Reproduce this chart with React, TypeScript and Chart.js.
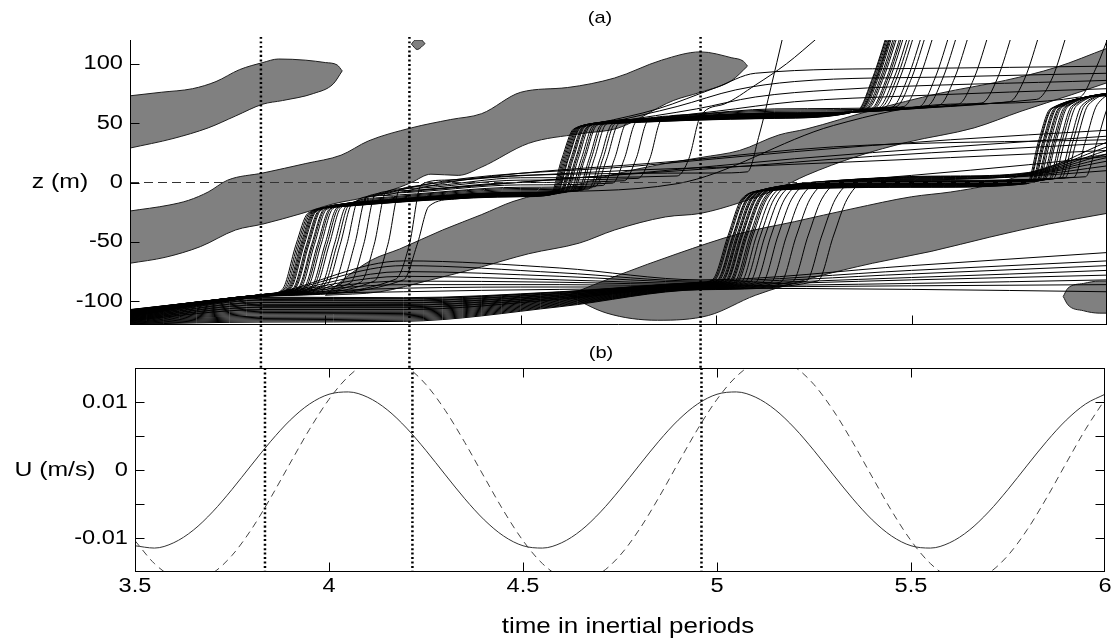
import React, { useEffect, useRef } from 'react';
import { Chart, registerables } from 'chart.js';

Chart.register(...registerables);

type P = [number, number];

// ---------------- axes / ticks ----------------
const timeRange: P = [3.5, 6];
const zRange: P = [-120, 120];
const uRange: P = [-0.015, 0.015];
const zTicks = [-100, -50, 0, 50, 100];
const zTickLabels = ['-100', '-50', '0', '50', '100'];
const timeTicks = [3.5, 4, 4.5, 5, 5.5, 6];
const timeTickLabels = ['3.5', '4', '4.5', '5', '5.5', '6'];
const uTicks = [-0.01, -0.005, 0, 0.005, 0.01];
const uTickLabels = ['-0.01', '', '0', '', '0.01'];
const markerTimes = [3.835, 4.215, 4.96];

// ---------------- panel (b): velocity ----------------
const uTime = [3.5, 3.55, 3.6, 3.65, 3.7, 3.75, 3.8, 3.85, 3.9, 3.95, 4.0, 4.05, 4.1, 4.15, 4.2, 4.25, 4.3, 4.35, 4.4, 4.45, 4.5, 4.55, 4.6, 4.65, 4.7, 4.75, 4.8, 4.85, 4.9, 4.95, 5.0, 5.05, 5.1, 5.15, 5.2, 5.25, 5.3, 5.35, 5.4, 5.45, 5.5, 5.55, 5.6, 5.65, 5.7, 5.75, 5.8, 5.85, 5.9, 5.95, 6.0];
const uSolid = [-0.01114, -0.01148, -0.01069, -0.00886, -0.00616, -0.00286, 0.00072, 0.00423, 0.00733, 0.00971, 0.01114, 0.01148, 0.01069, 0.00886, 0.00616, 0.00286, -0.00072, -0.00423, -0.00733, -0.00971, -0.01114, -0.01148, -0.01069, -0.00886, -0.00616, -0.00286, 0.00072, 0.00423, 0.00733, 0.00971, 0.01114, 0.01148, 0.01069, 0.00886, 0.00616, 0.00286, -0.00072, -0.00423, -0.00733, -0.00971, -0.01114, -0.01148, -0.01069, -0.00886, -0.00616, -0.00286, 0.00072, 0.00423, 0.00733, 0.00971, 0.01114];
const uDashed = [-0.01039, -0.01376, -0.01579, -0.01627, -0.01516, -0.01256, -0.00873, -0.00405, 0.00102, 0.006, 0.01039, 0.01376, 0.01579, 0.01627, 0.01516, 0.01256, 0.00873, 0.00405, -0.00102, -0.006, -0.01039, -0.01376, -0.01579, -0.01627, -0.01516, -0.01256, -0.00873, -0.00405, 0.00102, 0.006, 0.01039, 0.01376, 0.01579, 0.01627, 0.01516, 0.01256, 0.00873, 0.00405, -0.00102, -0.006, -0.01039, -0.01376, -0.01579, -0.01627, -0.01516, -0.01256, -0.00873, -0.00405, 0.00102, 0.006, 0.01039];

// ---------------- panel (a): grey regions (upper edge, lower edge) ----------------
const bandA_top: P[] = [[3.5, 73], [3.58, 76], [3.66, 79], [3.72, 85], [3.78, 95], [3.84, 101], [3.88, 104], [3.95, 103], [4.0, 101], [4.03, 99], [4.043, 94]];
const bandA_bot: P[] = [[3.5, 29], [3.61, 37], [3.7, 46], [3.77, 56], [3.84, 66], [3.89, 69], [3.97, 75], [4.02, 83], [4.043, 94]];
const bandB_top: P[] = [[3.5, -24], [3.6, -19], [3.65, -15], [3.7, -8], [3.75, 2], [3.84, 8], [3.95, 16], [4.04, 23], [4.11, 35], [4.22, 46], [4.32, 53], [4.4, 58], [4.5, 76], [4.62, 80], [4.74, 88], [4.86, 103], [4.96, 110], [5.04, 105], [5.07, 102], [5.08, 98]];
const bandB_bot: P[] = [[3.5, -68], [3.59, -63], [3.68, -54], [3.77, -40], [3.84, -35], [3.94, -26], [4.02, -18], [4.11, -12], [4.19, -4], [4.22, 0], [4.27, 7], [4.34, 6], [4.4, 13], [4.52, 33], [4.65, 41], [4.75, 46], [4.89, 69], [4.96, 76], [5.04, 86], [5.08, 98]];
const bandC_top: P[] = [[4.0, -95], [4.06, -78], [4.12, -65], [4.19, -56], [4.3, -40], [4.4, -27], [4.48, -16], [4.62, -4], [4.74, 7], [4.87, 16], [4.96, 21], [5.06, 27], [5.16, 40], [5.23, 45], [5.4, 61], [5.57, 75], [5.74, 86], [5.87, 97], [6.0, 113]];
const bandC_bot: P[] = [[4.0, -95], [4.14, -92], [4.27, -82], [4.4, -71], [4.52, -60], [4.65, -51], [4.74, -40], [4.87, -29], [4.96, -26], [5.06, -17], [5.16, -5], [5.23, 6], [5.36, 22], [5.49, 34], [5.66, 46], [5.78, 60], [5.91, 74], [6.0, 84]];
const bandD_top: P[] = [[4.62, -95], [4.75, -78], [4.9, -60], [5.06, -43], [5.2, -33], [5.35, -22], [5.5, -12], [5.6, -8], [5.7, -2], [5.8, 8], [5.9, 18], [6.0, 24]];
const bandD_bot: P[] = [[4.62, -95], [4.72, -110], [4.85, -116], [4.98, -112], [5.1, -95], [5.25, -80], [5.4, -68], [5.55, -58], [5.7, -46], [5.85, -35], [6.0, -26]];
const blobE_top: P[] = [[5.888, -96], [5.9, -89], [5.94, -85], [5.98, -83], [6.0, -83]];
const blobE_bot: P[] = [[5.888, -96], [5.9, -103], [5.94, -108], [5.98, -110], [6.0, -110]];
const blobF_top: P[] = [[4.22, 116.5], [4.23, 120], [4.245, 120], [4.255, 117]];
const blobF_bot: P[] = [[4.22, 116.5], [4.235, 112], [4.255, 117]];

// ---------------- particle tracks, group rising near t=3.9-4.2 ----------------
const g1_00: P[] = [[3.5, -107], [3.86, -93.5], [3.89, -90], [3.925, -52], [3.955, -26], [4.015, -21], [4.5, -12], [4.575, -10.5], [4.605, 20], [4.635, 45], [4.695, 49], [5.15, 54], [5.36, 60], [5.4, 88], [5.44, 128]];
const g1_01: P[] = [[3.5, -107.3], [3.86, -93.6], [3.898, -89.8], [3.933, -52], [3.963, -25.5], [4.023, -20.5], [4.5, -11.5], [4.581, -10], [4.611, 20], [4.641, 45.5], [4.701, 49.5], [5.15, 54.5], [5.365, 60.5], [5.405, 88], [5.445, 128]];
const g1_02: P[] = [[3.5, -107.6], [3.86, -93.7], [3.905, -89.6], [3.94, -52], [3.97, -25], [4.03, -20], [4.5, -11], [4.587, -9.5], [4.617, 20], [4.647, 46], [4.707, 50], [5.15, 55], [5.37, 61], [5.41, 88], [5.45, 128]];
const g1_03: P[] = [[3.5, -107.9], [3.86, -93.8], [3.911, -89.4], [3.946, -52], [3.976, -24.5], [4.036, -19.5], [4.5, -11], [4.592, -9.5], [4.622, 20], [4.652, 46], [4.712, 50], [5.15, 55], [5.375, 61], [5.415, 88], [5.455, 128]];
const g1_04: P[] = [[3.5, -108.2], [3.86, -93.9], [3.917, -89.2], [3.952, -52], [3.982, -24], [4.042, -19], [4.5, -10.5], [4.598, -9], [4.628, 20], [4.658, 46.5], [4.718, 50.5], [5.15, 55.5], [5.38, 61.5], [5.42, 88], [5.46, 128]];
const g1_05: P[] = [[3.5, -108.5], [3.86, -94], [3.923, -89], [3.958, -52], [3.988, -23.5], [4.048, -18.5], [4.5, -10], [4.604, -8.5], [4.634, 20], [4.664, 47], [4.724, 51], [5.15, 56], [5.388, 62], [5.428, 88], [5.468, 128]];
const g1_06: P[] = [[3.5, -108.8], [3.86, -94.1], [3.93, -88.8], [3.965, -52], [3.995, -23], [4.055, -18], [4.5, -10], [4.61, -8.5], [4.64, 20], [4.67, 47], [4.73, 51], [5.15, 56], [5.396, 62], [5.436, 88], [5.476, 128]];
const g1_07: P[] = [[3.5, -109.1], [3.86, -94.2], [3.937, -88.6], [3.972, -52], [4.002, -23], [4.062, -18], [4.5, -9.5], [4.617, -8], [4.647, 20], [4.677, 47.5], [4.737, 51.5], [5.15, 56.5], [5.405, 62.5], [5.445, 88], [5.485, 128]];
const g1_08: P[] = [[3.5, -109.4], [3.86, -94.3], [3.945, -88.4], [3.98, -52], [4.01, -22.5], [4.07, -17.5], [4.5, -9], [4.625, -7.5], [4.655, 20], [4.685, 48], [4.745, 52], [5.15, 57], [5.415, 63], [5.455, 88], [5.495, 128]];
const g1_09: P[] = [[3.5, -109.7], [3.86, -94.4], [3.954, -88.1], [3.989, -52], [4.019, -22], [4.079, -17], [4.5, -9], [4.634, -7.5], [4.664, 20], [4.694, 48], [4.754, 52], [5.15, 57], [5.43, 63], [5.47, 88], [5.51, 128]];
const g1_10: P[] = [[3.5, -110], [3.86, -94.5], [3.964, -87.8], [3.999, -52], [4.029, -21.5], [4.089, -16.5], [4.5, -8.5], [4.645, -7], [4.675, 20], [4.705, 48.5], [4.765, 52.5], [5.15, 57.5], [5.45, 63.5], [5.49, 88], [5.53, 128]];
const g1_11: P[] = [[3.5, -110.3], [3.86, -94.6], [3.975, -87.5], [4.01, -52], [4.04, -21], [4.1, -16], [4.5, -8], [4.658, -6.5], [4.688, 20], [4.718, 49], [4.778, 53], [5.15, 58], [5.48, 64], [5.52, 88], [5.56, 128]];
const g1_12: P[] = [[3.5, -110.6], [3.86, -94.7], [3.988, -87.1], [4.023, -52], [4.053, -20], [4.113, -15], [4.5, -7], [4.673, -5.5], [4.703, 20], [4.733, 49], [4.793, 53], [5.15, 58], [5.52, 64], [5.56, 88], [5.6, 128]];
const g1_13: P[] = [[3.5, -110.9], [3.86, -94.8], [4.003, -86.6], [4.038, -52], [4.068, -18], [4.128, -13], [4.5, -5], [4.69, -3.5], [4.72, 20], [4.75, 49.5], [4.81, 53.5], [5.15, 58.5], [5.57, 65], [5.61, 88], [5.65, 128]];
const g1_14: P[] = [[3.5, -111.2], [3.86, -94.9], [4.02, -86.1], [4.055, -52], [4.085, -14], [4.145, -11], [4.5, -4], [4.71, -2.5], [4.74, 20], [4.77, 50], [4.83, 54], [5.15, 59], [5.62, 66], [5.66, 88], [5.7, 128]];
const g1_15: P[] = [[3.5, -111.5], [3.86, -95], [4.04, -85.5], [4.075, -52], [4.105, -12], [4.165, -9], [4.5, -2], [4.735, -0.5], [4.765, 20], [4.795, 51], [4.855, 55], [5.15, 60], [5.68, 67], [5.72, 88], [5.76, 128]];
const g1_16: P[] = [[3.5, -111.8], [3.86, -95.1], [4.063, -84.8], [4.098, -52], [4.128, -10], [4.188, -7], [4.5, 0], [4.765, 1.5], [4.795, 20], [4.825, 52], [4.885, 56], [5.15, 61], [5.75, 68], [5.79, 88], [5.83, 128]];
const g1_17: P[] = [[3.5, -112.1], [3.86, -95.2], [4.09, -84], [4.125, -52], [4.155, -8], [4.215, -5], [4.5, 2], [4.8, 3.5], [4.83, 20], [4.86, 53], [4.92, 57], [5.15, 62], [5.82, 70], [5.86, 88], [5.9, 128]];
const g1_18: P[] = [[3.5, -112.4], [3.86, -95.3], [4.125, -83], [4.16, -52], [4.19, -6], [4.25, -3], [4.5, 4], [4.9, 5.5], [4.93, 20], [4.96, 56], [5.02, 66], [5.1, 82], [5.18, 100], [5.26, 122]];
const g1_19: P[] = [[3.5, -112.7], [3.86, -95.4], [4.18, -81.4], [4.215, -52], [4.245, -2], [4.305, 2], [4.5, 6], [5.0, 8], [5.08, 9], [5.11, 40], [5.14, 80], [5.17, 122]];
const g1_20: P[] = [[3.5, -107.15], [3.86, -93.55], [3.894, -89.9], [3.929, -52], [3.959, -25.8], [4.019, -20.8], [4.5, -11.8], [4.578, -10.3], [4.608, 20], [4.638, 45.2], [4.698, 49.2], [5.15, 54.2], [5.362, 60.2], [5.402, 88], [5.442, 128]];
const g1_21: P[] = [[3.5, -107.45], [3.86, -93.65], [3.902, -89.6], [3.937, -52], [3.967, -25.2], [4.027, -20.2], [4.5, -11.2], [4.584, -9.7], [4.614, 20], [4.644, 45.8], [4.704, 49.8], [5.15, 54.8], [5.368, 60.8], [5.408, 88], [5.448, 128]];
const g1_22: P[] = [[3.5, -107.75], [3.86, -93.75], [3.908, -89.5], [3.943, -52], [3.973, -24.8], [4.033, -19.8], [4.5, -10.8], [4.59, -9.3], [4.62, 20], [4.65, 46.2], [4.71, 50.2], [5.15, 55.2], [5.372, 61.2], [5.412, 88], [5.452, 128]];
const g1_23: P[] = [[3.5, -108.35], [3.86, -93.95], [3.92, -89.1], [3.955, -52], [3.985, -23.8], [4.045, -18.8], [4.5, -10.2], [4.601, -8.7], [4.631, 20], [4.661, 46.8], [4.721, 50.8], [5.15, 55.8], [5.384, 61.8], [5.424, 88], [5.464, 128]];
const g1_24: P[] = [[3.5, -108.95], [3.86, -94.15], [3.933, -88.7], [3.968, -52], [3.998, -23], [4.058, -18], [4.5, -9.7], [4.613, -8.2], [4.643, 20], [4.673, 47.2], [4.733, 51.2], [5.15, 56.2], [5.4, 62.2], [5.44, 88], [5.48, 128]];
const g1_25: P[] = [[3.5, -109.55], [3.86, -94.35], [3.949, -88.3], [3.984, -52], [4.014, -22.2], [4.074, -17.2], [4.5, -8.8], [4.63, -7.3], [4.66, 20], [4.69, 48.2], [4.75, 52.2], [5.15, 57.2], [5.422, 63.2], [5.462, 88], [5.502, 128]];
const g1_26: P[] = [[3.5, -110.15], [3.86, -94.55], [3.969, -87.6], [4.004, -52], [4.034, -21.2], [4.094, -16.2], [4.5, -8.2], [4.65, -6.7], [4.68, 20], [4.71, 48.8], [4.77, 52.8], [5.15, 57.8], [5.46, 63.8], [5.5, 88], [5.54, 128]];
const g1_27: P[] = [[3.5, -110.75], [3.86, -94.75], [3.995, -86.9], [4.03, -52], [4.06, -19], [4.12, -14], [4.5, -6], [4.68, -4.5], [4.71, 20], [4.74, 49.2], [4.8, 53.2], [5.15, 58.2], [5.54, 64.5], [5.58, 88], [5.62, 128]];
const g1_28: P[] = [[3.5, -112.9], [3.86, -95.5], [4.2, -82], [4.235, -52], [4.265, -20], [4.33, -14], [4.5, -9], [4.9, -1], [5.3, 48], [5.6, 66], [5.93, 72], [5.97, 95], [6.01, 128]];

// ---------------- particle tracks, lower bundle rising near t=5.0-5.3 ----------------
const g2_00: P[] = [[3.5, -113], [3.84, -96.5], [4.2, -97], [4.6, -92], [4.96, -84], [4.99, -82], [5.03, -45], [5.065, -14], [5.12, -7], [5.55, -4], [5.795, -1], [5.825, 35], [5.855, 62], [6.05, 74]];
const g2_01: P[] = [[3.5, -113.3], [3.84, -97.5], [4.2, -97.95], [4.6, -92.6], [4.96, -84.3], [4.996, -82.2], [5.036, -45], [5.071, -14], [5.126, -6.55], [5.55, -3.55], [5.8, -0.55], [5.83, 35], [5.86, 62.3], [6.05, 74.3]];
const g2_02: P[] = [[3.5, -113.6], [3.84, -98.5], [4.2, -98.9], [4.6, -93.2], [4.96, -84.6], [5.002, -82.4], [5.042, -45], [5.077, -14], [5.132, -6.1], [5.55, -3.1], [5.806, -0.1], [5.836, 35], [5.866, 62.6], [6.05, 74.6]];
const g2_03: P[] = [[3.5, -113.9], [3.84, -99.5], [4.2, -99.85], [4.6, -93.8], [4.96, -84.9], [5.007, -82.6], [5.047, -45], [5.082, -14], [5.137, -5.65], [5.55, -2.65], [5.812, 0.35], [5.842, 35], [5.872, 62.9], [6.05, 74.9]];
const g2_04: P[] = [[3.5, -114.2], [3.84, -100.5], [4.2, -100.8], [4.6, -94.4], [4.96, -85.2], [5.012, -82.8], [5.052, -45], [5.087, -14], [5.142, -5.2], [5.55, -2.2], [5.818, 0.8], [5.848, 35], [5.878, 63.2], [6.05, 75.2]];
const g2_05: P[] = [[3.5, -114.5], [3.84, -101.5], [4.2, -101.75], [4.6, -95], [4.96, -85.5], [5.017, -83], [5.057, -45], [5.092, -14], [5.147, -4.75], [5.55, -1.75], [5.825, 1.25], [5.855, 35], [5.885, 63.5], [6.05, 75.5]];
const g2_06: P[] = [[3.5, -114.8], [3.84, -102.5], [4.2, -102.7], [4.6, -95.6], [4.96, -85.8], [5.022, -83.2], [5.062, -45], [5.097, -14], [5.152, -4.3], [5.55, -1.3], [5.832, 1.7], [5.862, 35], [5.892, 63.8], [6.05, 75.8]];
const g2_07: P[] = [[3.5, -115.1], [3.84, -103.5], [4.2, -103.65], [4.6, -96.2], [4.96, -86.1], [5.027, -83.4], [5.067, -45], [5.102, -14], [5.157, -3.85], [5.55, -0.85], [5.84, 2.15], [5.87, 35], [5.9, 64.1], [6.05, 76.1]];
const g2_08: P[] = [[3.5, -115.4], [3.84, -104.5], [4.2, -104.6], [4.6, -96.8], [4.96, -86.4], [5.033, -83.5], [5.073, -45], [5.108, -14], [5.163, -3.4], [5.55, -0.4], [5.85, 2.6], [5.88, 35], [5.91, 64.4], [6.05, 76.4]];
const g2_09: P[] = [[3.5, -115.7], [3.84, -105.5], [4.2, -105.55], [4.6, -97.4], [4.96, -86.7], [5.039, -83.7], [5.079, -45], [5.114, -14], [5.169, -2.95], [5.55, 0.05], [5.862, 3.05], [5.892, 35], [5.922, 64.7], [6.05, 76.7]];
const g2_10: P[] = [[3.5, -116], [3.84, -106.5], [4.2, -106.5], [4.6, -98], [4.96, -87], [5.046, -83.9], [5.086, -45], [5.121, -14], [5.176, -2.5], [5.55, 0.5], [5.876, 3.5], [5.906, 35], [5.936, 65], [6.05, 77]];
const g2_11: P[] = [[3.5, -116.3], [3.84, -107.5], [4.2, -107.45], [4.6, -98.6], [4.96, -87.3], [5.054, -84], [5.094, -45], [5.129, -14], [5.184, -2.05], [5.55, 0.95], [5.892, 3.95], [5.922, 35], [5.952, 65.3], [6.05, 77.3]];
const g2_12: P[] = [[3.5, -116.6], [3.84, -108.5], [4.2, -108.4], [4.6, -99.2], [4.96, -87.6], [5.063, -84.1], [5.103, -45], [5.138, -14], [5.193, -1.6], [5.55, 1.4], [5.915, 4.4], [5.945, 35], [5.975, 65.6], [6.05, 77.6]];
const g2_13: P[] = [[3.5, -116.9], [3.84, -109.5], [4.2, -109.35], [4.6, -99.8], [4.96, -87.9], [5.073, -84.2], [5.113, -45], [5.148, -14], [5.203, -1.15], [5.55, 1.85], [5.945, 4.85], [5.975, 35], [6.005, 65.9], [6.05, 77.9]];
const g2_14: P[] = [[3.5, -117.2], [3.84, -110.5], [4.2, -110.3], [4.6, -100.4], [4.96, -88.2], [5.085, -84.3], [5.125, -45], [5.16, -14], [5.215, -0.7], [5.55, 2.3], [5.8, 5.3], [6.0, 10]];
const g2_15: P[] = [[3.5, -117.5], [3.84, -111.5], [4.2, -111.25], [4.6, -101], [4.96, -88.5], [5.1, -84.3], [5.14, -45], [5.175, -14], [5.23, -0.25], [5.55, 2.75], [5.8, 5.75], [6.0, 14]];
const g2_16: P[] = [[3.5, -117.8], [3.84, -112.5], [4.2, -112.2], [4.6, -101.6], [4.96, -88.8], [5.118, -84.2], [5.158, -45], [5.193, -14], [5.248, 0.2], [5.55, 3.2], [5.8, 6.2], [6.0, 18]];
const g2_17: P[] = [[3.5, -118.1], [3.84, -113.5], [4.2, -113.15], [4.6, -102.2], [4.96, -89.1], [5.14, -84.1], [5.18, -45], [5.215, -14], [5.27, 0.65], [5.55, 3.65], [5.8, 6.65], [6.0, 21]];
const g2_18: P[] = [[3.5, -118.4], [3.84, -114.5], [4.2, -114.1], [4.6, -102.8], [4.96, -89.4], [5.165, -83.9], [5.205, -45], [5.24, -14], [5.295, 1.1], [5.55, 4.1], [5.8, 7.1], [6.0, 24]];
const g2_19: P[] = [[3.5, -118.7], [3.84, -115.5], [4.2, -115.05], [4.6, -103.4], [4.96, -89.7], [5.195, -83.6], [5.235, -45], [5.27, -14], [5.325, 1.55], [5.55, 4.55], [5.8, 7.55], [6.0, 27]];
const g2_20: P[] = [[3.5, -119], [3.84, -116.5], [4.2, -116], [4.6, -104], [4.96, -90], [5.23, -83.2], [5.27, -45], [5.305, -14], [5.36, 2], [5.6, 5], [5.8, 8], [6.0, 30]];
const g2_21: P[] = [[3.5, -119.3], [3.84, -117.5], [4.2, -116.95], [4.6, -104.6], [4.96, -90.3], [5.26, -82.9], [5.3, -45], [5.335, -14], [5.39, 2.45], [5.6, 5.45], [5.8, 8.45], [6.0, 34]];
const g2_22: P[] = [[3.5, -113.15], [3.84, -97], [4.2, -97.5], [4.6, -92.3], [4.96, -84.15], [4.993, -82.1], [5.033, -45], [5.068, -14], [5.123, -6.8], [5.55, -3.8], [5.798, -0.8], [5.828, 35], [5.858, 62.1], [6.05, 74.1]];
const g2_23: P[] = [[3.5, -113.75], [3.84, -99], [4.2, -99.4], [4.6, -93.5], [4.96, -84.75], [5.004, -82.5], [5.044, -45], [5.079, -14], [5.134, -5.9], [5.55, -2.9], [5.809, 0.1], [5.839, 35], [5.869, 62.7], [6.05, 74.7]];
const g2_24: P[] = [[3.5, -114.35], [3.84, -101], [4.2, -101.3], [4.6, -94.7], [4.96, -85.35], [5.015, -82.9], [5.055, -45], [5.09, -14], [5.145, -5], [5.55, -2], [5.821, 1], [5.851, 35], [5.881, 63.3], [6.05, 75.3]];
const g2_25: P[] = [[3.5, -114.95], [3.84, -103], [4.2, -103.2], [4.6, -95.9], [4.96, -85.95], [5.025, -83.3], [5.065, -45], [5.1, -14], [5.155, -4.1], [5.55, -1.1], [5.836, 1.9], [5.866, 35], [5.896, 63.9], [6.05, 75.9]];
const g2_26: P[] = [[3.5, -115.55], [3.84, -105], [4.2, -105.1], [4.6, -97.1], [4.96, -86.55], [5.036, -83.6], [5.076, -45], [5.111, -14], [5.166, -3.2], [5.55, -0.2], [5.855, 2.8], [5.885, 35], [5.915, 64.5], [6.05, 76.5]];
const g2_27: P[] = [[3.5, -116.15], [3.84, -107], [4.2, -107], [4.6, -98.3], [4.96, -87.15], [5.05, -84], [5.09, -45], [5.125, -14], [5.18, -2.3], [5.55, 0.7], [5.883, 3.7], [5.913, 35], [5.943, 65.1], [6.05, 77.1]];

// ---------------- tracks that stay deep (lens between t=3.86 and 4.96) ----------------
const lens_0: P[] = [[3.5, -109], [3.86, -94], [4.2, -66], [4.6, -72], [4.96, -82], [5.5, -70], [6.0, -59]];
const lens_1: P[] = [[3.5, -109.5], [3.86, -94.2], [4.2, -70], [4.6, -76], [4.96, -83], [5.5, -74], [6.0, -66]];
const lens_2: P[] = [[3.5, -110], [3.86, -94.4], [4.2, -75], [4.6, -79], [4.96, -84], [5.5, -77], [6.0, -70]];
const lens_3: P[] = [[3.5, -110.5], [3.86, -94.6], [4.2, -79], [4.6, -82], [4.96, -85], [5.5, -80], [6.0, -74]];
const lens_4: P[] = [[3.5, -111], [3.86, -94.8], [4.2, -83], [4.6, -84], [4.96, -86], [5.5, -82], [6.0, -78]];
const lens_5: P[] = [[3.5, -111.5], [3.86, -95], [4.2, -86], [4.6, -86], [4.96, -87], [5.5, -85], [6.0, -82]];
const lens_6: P[] = [[3.5, -112], [3.86, -95.2], [4.2, -89], [4.6, -88], [4.96, -88], [5.5, -87], [6.0, -86]];
const lens_7: P[] = [[3.5, -112.5], [3.86, -95.4], [4.2, -92], [4.6, -90], [4.96, -89], [5.5, -90], [6.0, -92]];

// ---------------- slowly climbing tracks ----------------
const up_0: P[] = [[4.7, 50], [4.85, 62], [5.0, 80], [5.1, 92], [5.5, 96], [6.0, 98]];
const up_1: P[] = [[4.72, 50], [4.9, 64], [5.05, 78], [5.2, 85], [5.6, 89], [6.0, 92]];
const up_2: P[] = [[4.74, 51], [4.95, 62], [5.1, 72], [5.3, 78], [6.0, 86]];
const up_3: P[] = [[4.76, 51], [5.0, 60], [5.2, 68], [5.5, 73], [6.0, 79]];
const mid_0: P[] = [[4.1, -13], [4.25, -2], [4.7, 9], [5.1, 14], [5.6, 21], [6.0, 27]];
const mid_1: P[] = [[4.12, -12], [4.3, 1], [4.8, 14], [5.2, 26], [5.6, 36], [6.0, 44]];
const mid_2: P[] = [[4.15, -11], [4.35, 2], [4.9, 18], [5.3, 30], [6.0, 36]];
const mid_3: P[] = [[4.2, -8], [4.6, 3], [5.0, 12], [5.4, 22], [6.0, 33]];
const mid_4: P[] = [[4.25, -6], [4.8, 8], [5.2, 20], [5.6, 30], [6.0, 39]];
const mid_5: P[] = [[5.2, -2], [5.5, 6], [5.8, 15], [6.0, 22]];

const bands: [P[], P[]][] = [[bandA_top, bandA_bot], [bandB_top, bandB_bot], [bandC_top, bandC_bot], [bandD_top, bandD_bot], [blobE_top, blobE_bot], [blobF_top, blobF_bot]];
const tracks: P[][] = [
  g1_00, g1_01, g1_02, g1_03, g1_04, g1_05, g1_06, g1_07, g1_08, g1_09, g1_10, g1_11, g1_12, g1_13, g1_14, g1_15, g1_16, g1_17, g1_18, g1_19,
  g1_20, g1_21, g1_22, g1_23, g1_24, g1_25, g1_26, g1_27, g1_28,
  g2_00, g2_01, g2_02, g2_03, g2_04, g2_05, g2_06, g2_07, g2_08, g2_09, g2_10, g2_11, g2_12, g2_13, g2_14, g2_15, g2_16, g2_17, g2_18, g2_19, g2_20, g2_21,
  g2_22, g2_23, g2_24, g2_25, g2_26, g2_27,
  lens_0, lens_1, lens_2, lens_3, lens_4, lens_5, lens_6, lens_7,
  up_0, up_1, up_2, up_3, mid_0, mid_1, mid_2, mid_3, mid_4, mid_5,
];

// ---------------- styling ----------------
const FONT = '"Liberation Sans", Arial, Helvetica, sans-serif';
const GREY = '#808080';
const EDGE = '#1e1e1e';
const STRETCH = 1.18;

const xy = (arr: P[]) => arr.map(([x, y]) => ({ x, y }));

function drawText(ctx: CanvasRenderingContext2D, text: string, x: number, y: number, size: number, align: CanvasTextAlign) {
  ctx.save();
  ctx.translate(x, y);
  ctx.scale(STRETCH, 1);
  ctx.font = `${size}px ${FONT}`;
  ctx.textAlign = align;
  ctx.textBaseline = 'middle';
  ctx.fillStyle = '#000';
  ctx.fillText(text, 0, 0);
  ctx.restore();
}

const matlabAxes = {
  id: 'matlabAxes',
  afterDatasetsDraw(chart: any, _args: any, o: any) {
    const { ctx, chartArea: a, scales } = chart;
    const sx = scales.x, sy = scales.y;
    const L = Math.round(a.left) + 0.5, R = Math.round(a.right) - 0.5;
    const T = Math.round(a.top) + 0.5, B = Math.round(a.bottom) - 0.5;
    ctx.save();
    ctx.strokeStyle = '#000';
    ctx.lineWidth = 1;
    ctx.setLineDash([]);
    ctx.beginPath();
    if (o.sides.left) { ctx.moveTo(L, T - 0.5); ctx.lineTo(L, B + 0.5); }
    if (o.sides.right) { ctx.moveTo(R, T - 0.5); ctx.lineTo(R, B + 0.5); }
    if (o.sides.top) { ctx.moveTo(L, T); ctx.lineTo(R, T); }
    if (o.sides.bottom) { ctx.moveTo(L, B); ctx.lineTo(R, B); }
    const len = o.tickLen;
    for (const v of o.yTicks) {
      const py = Math.round(sy.getPixelForValue(v)) + 0.5;
      if (py <= T + 1 || py >= B - 1) continue;
      if (o.sides.left) { ctx.moveTo(L, py); ctx.lineTo(L + len, py); }
      if (o.sides.right && o.rightTicks) { ctx.moveTo(R, py); ctx.lineTo(R - len, py); }
    }
    for (const v of o.xTicks) {
      const px = Math.round(sx.getPixelForValue(v)) + 0.5;
      if (px <= L + 1 || px >= R - 1) continue;
      if (o.sides.bottom) { ctx.moveTo(px, B); ctx.lineTo(px, B - len); }
      if (o.sides.top) { ctx.moveTo(px, T); ctx.lineTo(px, T + len); }
    }
    ctx.stroke();
    o.yTicks.forEach((v: number, i: number) => {
      const lab = o.yLabels[i];
      if (lab) drawText(ctx, lab, o.yLabelRight, sy.getPixelForValue(v), o.tickSize, 'right');
    });
    if (o.xLabels) {
      o.xTicks.forEach((v: number, i: number) => {
        drawText(ctx, o.xLabels[i], sx.getPixelForValue(v), o.xLabelY, o.tickSize, 'center');
      });
    }
    for (const t of o.texts) drawText(ctx, t.text, t.x, t.y, t.size, t.align);
    ctx.restore();
  },
};

function baseLine(arr: P[], extra: any = {}) {
  return {
    data: xy(arr),
    borderColor: '#000',
    borderWidth: 1,
    pointRadius: 0,
    fill: false,
    cubicInterpolationMode: 'monotone',
    order: 5,
    ...extra,
  };
}

export default function App() {
  const topRef = useRef<HTMLCanvasElement>(null);
  const botRef = useRef<HTMLCanvasElement>(null);

  useEffect(() => {
    const topDatasets: any[] = [];
    bands.forEach(([up, lo]) => {
      topDatasets.push(baseLine(up, { fill: '+1', backgroundColor: GREY, borderColor: EDGE, order: 20 }));
      topDatasets.push(baseLine(lo, { fill: false, borderColor: EDGE, order: 20 }));
    });
    tracks.forEach((t) => topDatasets.push(baseLine(t)));
    topDatasets.push(baseLine([[timeRange[0], 0], [timeRange[1], 0]], { borderColor: '#333', borderDash: [9, 5], order: 1 }));
    markerTimes.forEach((t) => topDatasets.push(baseLine([[t, 122.5], [t, -156.5]], { borderWidth: 2.5, borderDash: [2, 2.5], clip: false, order: 0 })));

    const top = new Chart(topRef.current!, {
      type: 'line',
      data: { datasets: topDatasets },
      plugins: [matlabAxes],
      options: {
        responsive: false,
        animation: false,
        events: [],
        layout: { padding: { left: 130, right: 12, top: 40, bottom: 319 } },
        scales: {
          x: { type: 'linear', min: timeRange[0], max: timeRange[1], display: false },
          y: { type: 'linear', min: zRange[0], max: zRange[1], display: false },
        },
        plugins: {
          legend: { display: false },
          tooltip: { enabled: false },
          filler: { drawTime: 'beforeDatasetsDraw' },
          matlabAxes: {
            sides: { left: true, right: true, top: false, bottom: true },
            rightTicks: false,
            tickLen: 9,
            yTicks: zTicks,
            yLabels: zTickLabels,
            yLabelRight: 123,
            xTicks: timeTicks,
            xLabels: null,
            tickSize: 20,
            texts: [
              { text: '(a)', x: 600, y: 18, size: 17, align: 'center' },
              { text: 'z (m)', x: 60, y: 182, size: 21, align: 'center' },
            ],
          },
        } as any,
      },
    } as any);

    const botDatasets: any[] = [
      baseLine(uTime.map((t, i) => [t, uSolid[i]] as P), { borderColor: '#333', order: 3 }),
      baseLine(uTime.map((t, i) => [t, uDashed[i]] as P), { borderColor: '#444', borderDash: [7, 5], order: 2 }),
    ];
    markerTimes.forEach((t) => botDatasets.push(baseLine([[t, uRange[1]], [t, uRange[0]]], { borderWidth: 2.5, borderDash: [2, 2.5], order: 0 })));

    const bot = new Chart(botRef.current!, {
      type: 'line',
      data: { datasets: botDatasets },
      plugins: [matlabAxes],
      options: {
        responsive: false,
        animation: false,
        events: [],
        layout: { padding: { left: 135, right: 14, top: 368, bottom: 72 } },
        scales: {
          x: { type: 'linear', min: timeRange[0], max: timeRange[1], display: false },
          y: { type: 'linear', min: uRange[0], max: uRange[1], display: false },
        },
        plugins: {
          legend: { display: false },
          tooltip: { enabled: false },
          matlabAxes: {
            sides: { left: true, right: true, top: true, bottom: true },
            rightTicks: true,
            tickLen: 9,
            yTicks: uTicks,
            yLabels: uTickLabels,
            yLabelRight: 128,
            xTicks: timeTicks,
            xLabels: timeTickLabels,
            xLabelY: 586,
            tickSize: 20,
            texts: [
              { text: '(b)', x: 601, y: 353, size: 17, align: 'center' },
              { text: 'U (m/s)', x: 55, y: 470, size: 21, align: 'center' },
              { text: 'time in inertial periods', x: 628, y: 627, size: 22, align: 'center' },
            ],
          },
        } as any,
      },
    } as any);

    return () => { top.destroy(); bot.destroy(); };
  }, []);

  const cstyle: React.CSSProperties = { position: 'absolute', left: 0, top: 0, width: 1119, height: 644 };
  return (
    <div style={{ position: 'absolute', left: 0, top: 0, width: 1119, height: 644, background: '#fff' }}>
      <canvas ref={topRef} width={1119} height={644} style={cstyle} />
      <canvas ref={botRef} width={1119} height={644} style={cstyle} />
    </div>
  );
}
